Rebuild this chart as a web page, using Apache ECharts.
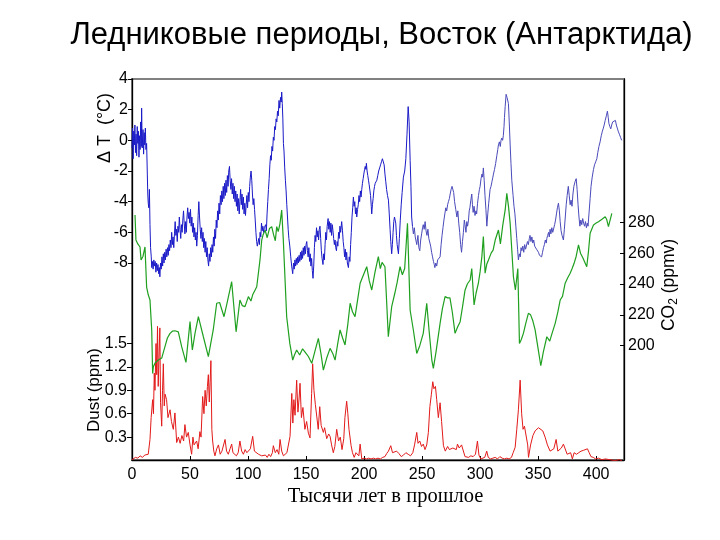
<!DOCTYPE html>
<html>
<head>
<meta charset="utf-8">
<script src="https://cdn.jsdelivr.net/npm/echarts@6/dist/echarts.min.js"></script>
<style>
  html, body { margin: 0; padding: 0; background: #fff; }
  #chart { width: 720px; height: 540px; }
</style>
</head>
<body>
<div id="chart"></div>
<script>
// Vostok: temperature anomaly, CO2, dust vs age (thousand years ago)
const titleText = 'Ледниковые периоды, Восток (Антарктида)';
const xName = 'Тысячи лет в прошлое';
const xTicks = [0, 50, 100, 150, 200, 250, 300, 350, 400];
const tempTicks = [-8, -6, -4, -2, 0, 2, 4];
const co2Ticks = [200, 220, 240, 260, 280];
const dustTicks = [0.3, 0.6, 0.9, 1.2, 1.5];

// [age kyr, dT °C]
const tempData = [
  [0,-0.5],[0.5,0.8],[1,-1.2],[1.5,0.6],[2,-0.3],[2.5,1.0],[3,-0.8],[3.5,0.4],[4,-1.0],[4.5,0.9],
  [5,-0.2],[5.5,0.6],[6,-1.1],[6.5,0.3],[7,-0.6],[7.5,1.2],[8,-0.4],[8.3,2.1],[8.8,-0.5],[9.5,0.7],
  [10,-0.9],[10.5,0.5],[11,-0.3],[11.5,0.8],[12,-0.6],[12.6,-0.2],[13.2,-2.2],[13.6,-3.5],[14,-4.1],[14.5,-4.4],
  [15,-3.2],[15.5,-5.5],[16,-7.0],[16.6,-7.6],[17,-8.3],[17.6,-7.9],[18.2,-8.4],[18.8,-7.8],[19.4,-8.2],[20,-7.9],
  [20.6,-8.6],[21.2,-8.0],[21.8,-8.5],[22.4,-8.1],[23,-8.7],[23.6,-8.3],[24,-8.9],[24.6,-8.0],[25.2,-8.4],[25.8,-7.6],
  [26.4,-8.2],[27,-7.4],[27.6,-8.0],[28.2,-7.3],[28.8,-7.8],[29.4,-7.1],[30,-7.6],[30.6,-7.0],[31.2,-7.5],[31.8,-6.8],
  [32.4,-7.2],[33,-6.5],[33.6,-7.0],[34.2,-6.0],[34.8,-6.8],[35.4,-6.3],[36,-7.0],[36.6,-6.1],[37.2,-5.3],[37.8,-6.2],
  [38.4,-5.8],[39,-6.6],[39.6,-5.6],[40.2,-6.0],[40.8,-5.0],[41.4,-5.8],[42,-6.4],[42.6,-5.5],[43.2,-6.0],[43.8,-5.2],
  [44.4,-4.6],[45,-5.4],[45.6,-6.1],[46.2,-5.3],[46.8,-6.0],[47.4,-5.0],[48,-4.4],[48.6,-5.1],[49.2,-4.7],[49.8,-5.4],
  [50.4,-4.5],[51,-5.6],[51.6,-5.0],[52.2,-6.0],[52.8,-5.4],[53.4,-6.3],[54,-5.7],[54.6,-6.5],[55.2,-6.0],[55.8,-6.9],
  [56.4,-6.2],[57,-4.9],[57.6,-4.0],[58.2,-5.0],[58.8,-5.8],[59.4,-6.4],[60,-5.7],[60.6,-6.6],[61.2,-6.0],[61.8,-7.0],
  [62.4,-6.4],[63,-7.3],[63.6,-6.6],[64.2,-7.6],[64.8,-7.0],[65.4,-7.8],[66,-8.2],[66.6,-7.4],[67.2,-7.9],[67.8,-7.0],
  [68.4,-7.6],[69,-6.8],[69.6,-7.3],[70.2,-6.3],[70.8,-6.9],[71.4,-5.8],[72,-6.4],[72.6,-5.2],[73.2,-5.7],[73.8,-4.6],
  [74.4,-5.2],[75,-4.1],[75.6,-4.8],[76.2,-3.6],[76.8,-4.2],[77.4,-3.3],[78,-4.0],[78.6,-3.0],[79.2,-3.8],[79.8,-2.8],
  [80.4,-3.6],[81,-2.6],[81.6,-3.4],[82.2,-2.3],[82.8,-3.0],[83.4,-2.0],[84,-1.7],[84.6,-2.6],[85.2,-3.2],[85.8,-2.5],
  [86.4,-3.5],[87,-2.8],[87.6,-3.8],[88.2,-3.0],[88.8,-4.0],[89.4,-3.3],[90,-4.3],[90.6,-3.5],[91.2,-4.6],[91.8,-3.8],
  [92.4,-4.8],[93,-4.0],[93.6,-3.2],[94.2,-4.2],[94.8,-3.5],[95.4,-4.5],[96,-3.7],[96.6,-4.8],[97.2,-4.1],[97.8,-4.9],
  [98.4,-4.2],[99,-3.6],[99.6,-4.4],[100.2,-3.4],[100.8,-4.0],[101.4,-3.0],[102,-2.4],[102.6,-2.0],[103.2,-2.6],[103.8,-3.5],
  [104.4,-4.2],[105,-3.8],[105.6,-4.5],[106.2,-5.2],[106.8,-6.0],[107.4,-6.6],[108,-6.9],[108.6,-7.0],[109.2,-6.4],[109.8,-6.8],
  [110.4,-6.0],[111,-6.3],[111.6,-5.4],[112.2,-5.9],[112.8,-5.6],[113.4,-6.0],[114,-5.7],[114.6,-5.8],[115.2,-5.5],[115.8,-5.9],
  [116.4,-4.8],[117,-4.0],[117.6,-3.2],[118.2,-2.5],[118.8,-1.6],[119.4,-1.0],[120,-1.3],[120.6,-0.4],[121.2,-0.7],[121.8,0.2],
  [122.4,0.0],[123,0.9],[123.6,0.7],[124.2,1.4],[124.8,1.2],[125.4,1.9],[126,1.6],[126.7,2.6],[127.3,2.1],[128,2.8],
  [128.6,2.5],[129,3.15],[129.5,2.4],[130,1.4],[130.5,-0.2],[131,-0.7],[131.6,-1.8],[132.2,-2.6],[132.8,-3.3],[133.4,-4.2],
  [134,-5.0],[134.6,-5.8],[135.2,-6.4],[136,-6.9],[136.8,-7.6],[137.6,-8.2],[138.5,-8.7],[139.2,-8.0],[139.8,-8.4],[140.4,-7.8],
  [141,-8.2],[141.6,-7.7],[142.2,-8.1],[142.8,-7.6],[143.4,-8.0],[144,-7.5],[144.6,-7.9],[145.2,-7.3],[145.8,-7.8],[146.4,-7.2],
  [147,-7.7],[147.6,-7.0],[148.2,-7.5],[148.8,-6.9],[149.4,-7.4],[150,-6.8],[150.6,-6.6],[151.2,-7.2],[151.8,-7.6],[152.4,-7.0],
  [153,-7.9],[153.6,-7.4],[154.2,-8.2],[154.8,-7.7],[155.4,-8.5],[156,-9.0],[156.6,-8.2],[157.2,-7.0],[157.8,-6.2],[158.4,-6.6],
  [159,-5.7],[159.6,-6.3],[160.2,-5.9],[160.8,-6.5],[161.4,-5.8],[162,-5.6],[162.6,-6.4],[163.2,-7.2],[163.8,-7.7],[164.6,-8.1],
  [165.2,-7.4],[165.8,-7.8],[166.4,-6.8],[167,-6.0],[167.6,-6.5],[168.2,-5.6],[169,-5.1],[169.6,-5.8],[170.2,-5.3],[170.8,-6.0],
  [171.4,-5.4],[172,-6.2],[172.6,-5.5],[173.2,-5.9],[173.8,-6.4],[174.4,-6.8],[175,-6.5],[175.6,-7.0],[176.2,-7.2],[176.8,-6.6],
  [177.4,-6.9],[178,-6.0],[178.6,-6.4],[179.2,-5.6],[179.8,-6.0],[180.7,-5.3],[181.4,-5.9],[182,-6.6],[182.6,-7.0],[183.2,-7.6],
  [183.8,-7.1],[184.4,-7.8],[185,-7.3],[185.6,-8.0],[186.5,-8.3],[187.2,-7.6],[187.8,-7.9],[188.4,-6.8],[189,-6.0],[189.6,-5.0],
  [190.2,-4.4],[190.8,-3.7],[191.4,-4.3],[192,-4.0],[192.6,-4.8],[193.2,-4.4],[193.7,-5.0],[194.4,-4.5],[195,-4.2],[195.6,-3.6],
  [196.2,-4.0],[196.8,-3.3],[197.4,-3.7],[198,-3.2],[198.6,-2.8],[199.2,-2.5],[199.8,-2.2],[200.4,-1.9],[201,-1.7],[201.6,-1.9],
  [202,-1.5],[202.6,-2.0],[203.2,-2.3],[203.8,-2.6],[204.4,-2.9],[205,-3.0],[205.6,-3.6],[206.2,-4.3],[206.6,-4.8],[207.2,-4.2],
  [207.8,-3.8],[208.4,-3.3],[209,-3.0],[209.6,-2.8],[210.2,-2.7],[211,-2.6],[211.8,-2.3],[212.6,-2.0],[213.4,-1.8],[214.2,-1.6],
  [215,-1.4],[215.8,-1.2],[216.6,-1.1],[217.3,-1.6],[218,-2.2],[218.7,-2.7],[219.4,-3.2],[220.2,-3.6],[221,-3.9],[221.7,-4.8],
  [222.4,-5.8],[223,-6.6],[223.8,-7.4],[224.4,-6.8],[225,-6.0],[225.6,-5.3],[226.2,-5.0],[226.7,-4.9],[227.3,-5.4],[227.9,-6.2],
  [228.5,-6.8],[229.6,-7.4],[230.4,-6.4],[231.2,-5.2],[232,-4.2],[232.8,-3.4],[233.9,-2.4],[235,-2.0],[236,-1.2],[237,0.4],
  [238,2.2],[238.8,1.2],[239.7,-1.3],[240.4,-3.0],[241,-5.0],[241.7,-5.6],[242.5,-6.1],[243.3,-5.7],[244.1,-6.3],[245.4,-6.8],
  [246.4,-6.2],[247.2,-7.0],[248,-7.2],[248.8,-6.5],[249.6,-6.1],[250.4,-5.7],[251,-5.5],[251.8,-5.8],[252.6,-5.3],[253.4,-5.9],
  [254.2,-6.2],[255,-5.8],[255.8,-6.4],[256.6,-6.5],[257.4,-6.9],[258.2,-7.3],[259,-7.6],[259.8,-7.9],[260.5,-8.1],[261,-8.3],
  [261.8,-8.0],[262.6,-8.2],[263.4,-7.8],[264.2,-7.9],[265.5,-7.6],[266.4,-6.8],[267.2,-6.2],[268,-5.7],[268.8,-5.2],[269.6,-4.8],
  [270.4,-4.4],[271.2,-4.6],[272,-4.2],[272.7,-4.0],[273.5,-3.8],[274.2,-3.5],[275,-3.2],[275.8,-3.0],[276.5,-2.9],[277.2,-3.4],
  [278,-4.0],[279,-4.5],[280,-5.0],[280.8,-4.6],[281.6,-5.4],[282.4,-6.0],[283.2,-6.8],[284,-7.3],[284.8,-6.6],[285.6,-6.0],
  [286.4,-5.2],[287,-5.5],[287.8,-6.0],[288.5,-5.3],[289.2,-5.6],[290,-5.2],[290.6,-4.6],[291.2,-4.4],[292,-3.9],[292.8,-3.5],
  [293.4,-4.2],[294,-4.7],[294.8,-4.3],[295.6,-4.9],[296.4,-4.6],[297,-4.8],[297.8,-4.1],[298.6,-3.6],[299.4,-3.2],[300,-3.0],
  [300.8,-2.5],[301.6,-2.2],[302.2,-2.4],[302.8,-1.8],[303.5,-2.6],[304.2,-3.6],[305,-4.5],[305.8,-5.6],[306.6,-4.8],[307.4,-4.1],
  [308.6,-3.2],[309.4,-3.0],[310.2,-2.7],[311,-2.4],[311.5,-2.2],[312.4,-1.9],[313.4,-1.5],[314.4,-1.0],[315.2,-0.6],[315.8,-0.3],
  [316.6,-0.1],[317.4,-0.4],[318,0.0],[318.7,0.15],[319.4,0.0],[320,0.3],[320.6,0.9],[321,1.5],[321.6,2.2],[322.4,3.0],
  [323.2,2.8],[324.4,2.4],[325.1,1.2],[325.9,-0.3],[326.6,-1.5],[327.3,-2.6],[328.4,-3.6],[329.2,-4.3],[330,-4.8],[330.8,-5.6],
  [331.6,-6.4],[332.3,-7.1],[333,-7.8],[333.8,-7.4],[334.6,-7.6],[335.3,-7.0],[336,-7.2],[336.8,-6.9],[337.6,-7.3],[338.4,-6.8],
  [339.2,-7.1],[340,-7.0],[340.8,-6.6],[341.6,-6.8],[342.4,-6.4],[343,-6.2],[343.8,-6.6],[344.6,-6.3],[345.4,-6.7],[346.2,-6.5],
  [347,-6.9],[347.8,-6.8],[348.6,-7.1],[349.4,-7.0],[350.3,-7.3],[351.2,-7.5],[352,-7.4],[353,-7.6],[353.8,-7.3],[354.6,-7.0],
  [355.4,-6.8],[356.2,-6.5],[357,-6.7],[357.5,-6.4],[358.2,-6.2],[359,-6.0],[359.6,-6.3],[360.3,-5.8],[361,-6.1],[361.8,-5.7],
  [362.6,-6.0],[363.4,-5.9],[364.2,-5.5],[365,-5.2],[365.8,-4.8],[366.6,-4.4],[367.5,-4.1],[368.3,-4.6],[369,-5.3],[369.8,-5.9],
  [370.6,-6.2],[371.8,-6.5],[372.6,-5.8],[373.4,-5.0],[374.2,-4.2],[375,-3.6],[376,-3.0],[376.8,-3.6],[377.6,-4.2],[378.4,-3.9],
  [379.2,-4.3],[380,-3.5],[380.8,-3.0],[381.8,-2.7],[382.8,-2.5],[383.6,-3.2],[384.4,-4.2],[385.2,-5.0],[386,-5.6],[386.8,-5.2],
  [387.6,-5.5],[388.4,-5.1],[389.2,-5.4],[390,-5.6],[390.8,-5.3],[391.6,-5.7],[392.4,-5.4],[393,-5.6],[393.8,-4.8],[394.8,-3.8],
  [395.6,-3.0],[396.6,-2.4],[397.7,-1.9],[398.6,-1.6],[399.6,-1.4],[400.6,-1.2],[401.4,-0.8],[402.4,-0.4],[403.4,-0.1],[404.4,0.3],
  [405.4,0.6],[406.2,0.8],[406.9,1.0],[407.8,1.3],[408.8,1.6],[409.7,1.9],[410.4,1.5],[411,1.1],[411.8,0.9],[412.6,0.75],
  [413.4,1.0],[414.2,1.2],[415,1.3],[415.8,1.2],[416.6,1.3],[417.4,1.0],[418.2,0.8],[419,0.6],[420,0.4],[421,0.2],[422,0.0]
];

// [age kyr, CO2 ppmv]
const co2Data = [
  [2.6,284.7],[3.4,268.6],[5,266],[6.9,264],[7.8,255.6],[9.5,258],[11.2,264],[12.6,238],[14,233],[15.5,229.6],
  [17,210],[17.8,182],[18.4,186.4],[20,189],[22.7,190.7],[25.6,192],[28.4,199.4],[30.5,205],[32.8,208],[35,209.5],
  [37,209.7],[39.9,209],[42.8,199.4],[46.5,189.2],[48,190],[50,215.6],[52,197.2],[54.3,208],[57.2,218.8],[61.5,205.8],
  [65.8,192.9],[70,210.2],[73,227.5],[75.5,228],[79.3,218.8],[82,228],[85.9,241.5],[89.7,209],[93,229.6],[95,226],
  [97.4,225.3],[100.3,231.8],[102.5,229],[104,233],[106,236],[107.5,238.2],[110.3,255.6],[111.8,268.5],[113,272],[114.7,275],
  [116.5,270],[118.5,276],[120.4,277.2],[122,272],[123.5,268],[124.7,277.2],[126,274],[127.5,279],[129,288],[130.4,268.5],
  [133.3,218.8],[136,201.5],[138.5,190.7],[140,194],[141.9,197.2],[144.5,194],[147,198],[150,195],[152,193],[154.9,188.6],
  [157.5,196],[160.6,204.8],[162.8,195],[164.9,184.2],[167.8,192],[170.7,198.3],[173,195],[175,190.7],[177,200],[179.3,210.2],
  [181.5,205],[183.6,200.5],[186,214],[188,227.5],[190,222],[192.2,218.8],[194.5,230],[196.6,240.5],[199.5,246],[202.3,251.2],
  [204.5,242],[206.6,236.1],[209.5,248],[212.3,257.7],[214,250],[215.5,254],[218,251.2],[220.9,205.8],[223.8,225.3],[226.5,234],
  [228.5,241],[231,251.2],[233,246],[235,250],[237.4,279.3],[239.7,223],[242.5,210],[245.4,195],[248,200],[251,208],
  [254,227.5],[256,210],[258.4,190.7],[259.7,185.3],[262,196],[265.5,214.5],[267.5,224],[269.8,231.8],[272,231],[274,231],
  [276,222],[278.4,208],[280.5,212],[282.8,215.6],[285,226],[287,236],[289,240],[291.4,242.6],[292.8,250],[294.8,226.4],
  [296.5,234],[298.5,240.5],[300,248],[301.5,257.7],[302.8,270.7],[304.3,247],[305.8,253],[307.2,255.6],[309.5,260],[311.2,262],
  [313,268.5],[315.8,275],[317.5,266],[319.5,278],[321.6,288],[323,298.8],[324.5,290],[325.9,279.3],[327.3,262],[328.7,244.7],
  [330.4,236.1],[332.5,250],[333.9,201.5],[335.5,204],[337.3,208],[339.5,215],[341.6,221],[343.5,220],[345.5,216],[347.4,210.2],
  [350,198],[352.3,187],[354.5,196],[357.5,205.8],[360,203],[362,208],[364.7,214.5],[367,222],[369,229.6],[371,232],
  [373.3,240.5],[375.5,244],[377.6,247],[379.3,250],[381,253.4],[382.8,258],[384.8,265.3],[386.5,260],[388.5,257],[391.9,251.2],
  [393.5,262],[394.8,272.9],[397.7,278.3],[400,279.5],[402,280.4],[405,282],[407.8,283.6],[409,282],[410.6,277.2],[413.5,285.8]
];

// [age kyr, dust ppm]
const dustData = [
  [0,0.01],[1,0.02],[3,0.04],[5,0.03],[7,0.06],[9,0.04],[11,0.07],[12.5,0.05],[14,0.08],[15.5,0.27],
  [16.5,0.55],[17.8,0.78],[18.5,0.6],[19.2,1.12],[19.8,0.9],[20.7,1.5],[21.3,1.1],[22,1.72],[22.6,0.95],[23.2,1.3],
  [24,1.7],[24.6,0.74],[25.6,0.44],[26.3,0.9],[27,1.24],[27.8,0.7],[28.5,0.85],[29.8,0.78],[31,0.55],[32.8,0.65],
  [34,0.5],[35.6,0.4],[37,0.61],[38.5,0.23],[40,0.3],[41.5,0.22],[43,0.32],[44.5,0.25],[45.6,0.46],[47,0.3],
  [48.5,0.36],[50,0.2],[51.4,0.08],[52.5,0.3],[53.5,0.2],[55.7,0.25],[57,0.15],[58.5,0.37],[59.5,0.3],[60.9,0.82],
  [62,0.6],[63,0.9],[64,0.7],[65,0.95],[65.8,1.1],[66.6,0.75],[67.3,1.0],[68,1.28],[68.8,0.4],[69.5,0.25],
  [70.5,0.12],[71.5,0.06],[73,0.15],[74.5,0.2],[76,0.08],[77.5,0.12],[79,0.1],[80.2,0.27],[81.5,0.12],[83,0.08],
  [84.5,0.15],[85.9,0.21],[87,0.1],[88.5,0.12],[90,0.06],[91.5,0.1],[93,0.25],[94.5,0.12],[96,0.08],[97.5,0.14],
  [99,0.1],[100.5,0.12],[102,0.15],[104,0.31],[105.5,0.12],[107,0.1],[109,0.08],[111.8,0.06],[113.5,0.04],[115,0.07],
  [116.5,0.04],[118,0.08],[119.5,0.05],[121,0.1],[121.8,0.19],[122.7,0.21],[123.5,0.1],[125,0.14],[126.5,0.08],[127.6,0.27],
  [129,0.12],[130.5,0.06],[131.9,0.04],[133.5,0.1],[135,0.08],[136.2,0.31],[137.7,0.86],[138.6,0.48],[139.5,0.78],[140.5,0.58],
  [141.9,1.03],[143,0.62],[144,0.8],[144.8,0.99],[146,0.55],[147.3,0.68],[149,0.4],[150.5,0.5],[152,0.35],[153.4,0.29],
  [154.8,0.86],[155.7,1.24],[156.8,0.9],[158,0.72],[159.2,0.57],[160.5,0.4],[161.8,0.69],[163,0.45],[164.9,0.36],[166,0.42],
  [167.8,0.28],[169.5,0.34],[170.7,0.31],[172,0.2],[173.5,0.1],[174.8,0.18],[176.4,0.4],[178,0.25],[179.5,0.3],[181,0.14],
  [182.5,0.28],[183.5,0.55],[185,0.76],[186,0.6],[187,0.4],[188.8,0.19],[190,0.1],[191.5,0.04],[193,0.1],[194.5,0.12],
  [195.5,0.06],[196.6,0.21],[198,0.02],[200,0.03],[202,0.02],[204,0.03],[206,0.02],[208,0.03],[210,0.02],[212,0.03],
  [214,0.02],[216,0.04],[218,0.05],[219.5,0.09],[221,0.12],[223,0.19],[224.5,0.1],[226,0.08],[228,0.12],[230,0.09],
  [232,0.05],[234,0.07],[236,0.1],[238,0.08],[240,0.06],[242,0.1],[243.5,0.2],[245.4,0.36],[246.5,0.22],[248,0.25],
  [249.5,0.18],[251,0.21],[252.5,0.14],[254,0.2],[255.4,0.36],[256.7,0.69],[258,0.85],[259.2,1.01],[260.2,0.92],[261.5,0.95],
  [262.6,0.78],[264,0.55],[265.5,0.74],[266.8,0.5],[268.4,0.19],[270,0.12],[272,0.18],[273.5,0.14],[275,0.13],[276.5,0.16],
  [278,0.18],[279.5,0.14],[280.5,0.21],[282,0.16],[284,0.2],[285.6,0.21],[287,0.05],[288.5,0.06],[290,0.04],[292,0.06],
  [294,0.05],[296,0.08],[297.7,0.25],[299,0.07],[300.5,0.02],[302,0.03],[304,0.04],[305.7,0.12],[307,0.04],[309,0.02],
  [311,0.03],[313,0.04],[315,0.02],[317,0.05],[319,0.03],[321,0.02],[323,0.03],[325,0.02],[327,0.04],[328.5,0.1],
  [330.2,0.17],[331.6,0.4],[333,0.65],[334.5,1.03],[335.8,0.6],[337,0.4],[338.2,0.44],[339.6,0.42],[341,0.2],[341.7,0.04],
  [343.5,0.2],[345.5,0.32],[347.4,0.38],[349,0.4],[350.3,0.42],[352,0.4],[354,0.38],[356,0.3],[358,0.2],[360.3,0.12],
  [362,0.1],[363.5,0.15],[365.5,0.27],[367,0.12],[368.5,0.1],[370,0.16],[371.8,0.21],[373.5,0.19],[375,0.08],[376.5,0.06],
  [378,0.1],[379.5,0.02],[381,0.1],[383,0.08],[385,0.1],[387,0.12],[389,0.13],[390.5,0.12],[392.5,0.15],[394,0.1],
  [395.5,0.05],[397.5,0.04],[399.5,0.02],[402,0.03],[405,0.01],[408,0.02],[412,0.01],[416,0.0],[420,0.01],[422,0.0]
];

const FONT = 'Liberation Sans, Arial, sans-serif';
const X_MAX = 424;
const TEMP_SPLIT = 242; // older part of the record is drawn in a lighter blue

function hiddenX(i) {
  return { gridIndex: i, type: 'value', min: 0, max: X_MAX, show: false, axisLine: { onZero: false } };
}

function frameY(pos) {
  return {
    gridIndex: 0, position: pos, min: 0, max: 1,
    axisLine: { show: true, onZero: false, lineStyle: { color: '#000', width: 1.3 } },
    axisTick: { show: false }, axisLabel: { show: false }, splitLine: { show: false }
  };
}

function tempSeries(data, color) {
  return { type: 'line', xAxisIndex: 1, yAxisIndex: 2, data: data, showSymbol: false, clip: false,
    lineStyle: { color: color, width: 1 } };
}

const chart = echarts.init(document.getElementById('chart'), null, { renderer: 'canvas' });
chart.setOption({
  animation: false,
  backgroundColor: '#fff',
  grid: [
    { left: 132, top: 79, width: 492, height: 381, show: true, borderColor: '#808080', borderWidth: 2, outerBoundsMode: 'none' },
    { left: 132, top: 79, width: 492, height: 184, outerBoundsMode: 'none' },
    { left: 132, top: 222.3, width: 492, height: 123.4, outerBoundsMode: 'none' },
    { left: 132, top: 343.5, width: 492, height: 117, outerBoundsMode: 'none' }
  ],
  xAxis: [
    {
      gridIndex: 0, type: 'value', min: 0, max: X_MAX,
      axisLine: { show: true, onZero: false, lineStyle: { color: '#000', width: 1.3 } },
      axisTick: { show: true, inside: true, length: 4, customValues: xTicks, lineStyle: { color: '#000' } },
      axisLabel: { color: '#000', fontSize: 16, fontFamily: FONT, margin: 7, customValues: xTicks },
      splitLine: { show: false }
    },
    hiddenX(1), hiddenX(2), hiddenX(3)
  ],
  yAxis: [
    frameY('left'),
    frameY('right'),
    {
      gridIndex: 1, position: 'left', min: -8, max: 4,
      axisLine: { show: false, onZero: false },
      axisTick: { show: true, length: 4, customValues: tempTicks, lineStyle: { color: '#000' } },
      axisLabel: { color: '#000', fontSize: 16, fontFamily: FONT, margin: 4, customValues: tempTicks },
      splitLine: { show: false }
    },
    {
      gridIndex: 2, position: 'right', min: 200, max: 280,
      axisLine: { show: false, onZero: false },
      axisTick: { show: true, inside: true, length: 4, customValues: co2Ticks, lineStyle: { color: '#000' } },
      axisLabel: { color: '#000', fontSize: 16, fontFamily: FONT, margin: 4, customValues: co2Ticks },
      splitLine: { show: false }
    },
    {
      gridIndex: 3, position: 'left', min: 0, max: 1.5,
      axisLine: { show: false, onZero: false },
      axisTick: { show: true, length: 5, customValues: dustTicks, lineStyle: { color: '#000' } },
      axisLabel: { color: '#000', fontSize: 16, fontFamily: FONT, margin: 5, customValues: dustTicks,
        formatter: v => v.toFixed(1) },
      splitLine: { show: false }
    }
  ],
  series: [
    { name: 'Dust', type: 'line', xAxisIndex: 3, yAxisIndex: 4, data: dustData, showSymbol: false, clip: false,
      lineStyle: { color: '#e31a1a', width: 1 } },
    { name: 'CO2', type: 'line', xAxisIndex: 2, yAxisIndex: 3, data: co2Data, showSymbol: false, clip: false,
      lineStyle: { color: '#1fa01f', width: 1.2 } },
    tempSeries(tempData.filter(d => d[0] <= TEMP_SPLIT), '#1a1ac8'),
    tempSeries(tempData.filter(d => d[0] >= 241.7), '#4a4abb')
  ],
  graphic: [
    { type: 'text', x: 381.5, y: 35, style: { text: titleText, font: '31px ' + FONT, fill: '#000', align: 'center', verticalAlign: 'middle' } },
    { type: 'text', x: 385.5, y: 497, style: { text: xName, font: '20.5px Liberation Serif, Times New Roman, serif', fill: '#000', align: 'center', verticalAlign: 'middle' } },
    { type: 'text', x: 105, y: 128, rotation: Math.PI / 2, style: { text: 'Δ T  (°C)', font: '18px ' + FONT, fill: '#000', align: 'center', verticalAlign: 'middle' } },
    { type: 'text', x: 94, y: 390, rotation: Math.PI / 2, style: { text: 'Dust (ppm)', font: '17px ' + FONT, fill: '#000', align: 'center', verticalAlign: 'middle' } },
    { type: 'text', x: 669, y: 285, rotation: Math.PI / 2, style: {
        text: '{a|CO}{s|2}{a| (ppmv)}', align: 'center', verticalAlign: 'middle',
        rich: {
          a: { font: '17.5px ' + FONT, fill: '#000', verticalAlign: 'middle', lineHeight: 22 },
          s: { font: '12px ' + FONT, fill: '#000', verticalAlign: 'bottom', lineHeight: 12, padding: [10, 0, 0, 0] }
        } } }
  ]
});
</script>
</body>
</html>
